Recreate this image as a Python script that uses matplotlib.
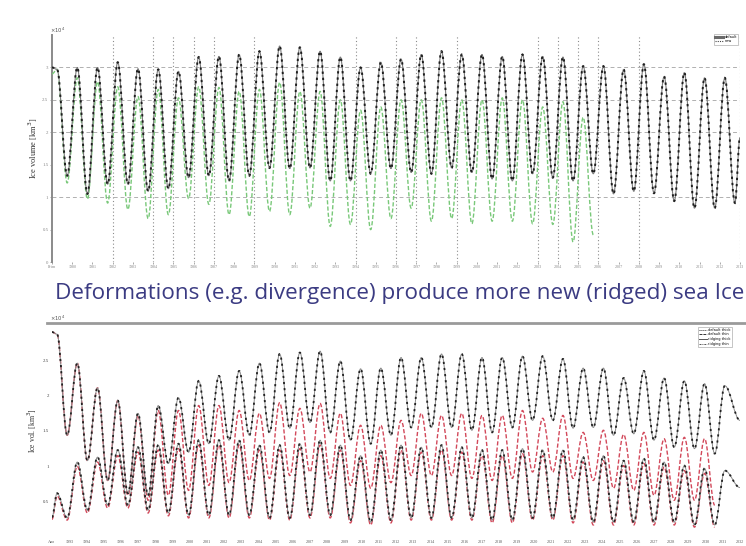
import matplotlib
matplotlib.use("Agg")
import matplotlib.pyplot as plt
from matplotlib.path import Path
from matplotlib.patches import PathPatch
from matplotlib.lines import Line2D

# ---------------- data ----------------
# Top panel: ice volume (x10^4 km^3), one seasonal maximum / minimum per year
top_black_start = 3.00
top_black_max = [2.97, 3.00, 3.00, 3.08, 2.98, 2.97, 2.94, 3.16, 3.17, 3.20,
                 3.25, 3.33, 3.31, 3.25, 3.16, 3.00, 3.08, 3.13, 3.20, 3.25,
                 3.20, 3.20, 3.17, 3.20, 3.17, 3.16, 3.02, 3.02, 2.97, 3.05,
                 2.86, 2.92, 2.84, 2.84]
top_black_min = [1.33, 1.05, 1.20, 1.20, 1.09, 1.13, 1.30, 1.33, 1.25, 1.33,
                 1.45, 1.44, 1.45, 1.25, 1.25, 1.36, 1.44, 1.38, 1.36, 1.45,
                 1.38, 1.28, 1.25, 1.36, 1.30, 1.25, 1.36, 1.05, 1.09, 1.06,
                 0.94, 0.83, 0.83, 0.91]
top_black_end = 1.92

top_green_start = 2.90
top_green_max = [2.97, 2.84, 2.78, 2.70, 2.55, 2.66, 2.53, 2.70, 2.69, 2.63,
                 2.66, 2.77, 2.63, 2.63, 2.50, 2.34, 2.39, 2.50, 2.50, 2.53,
                 2.50, 2.50, 2.53, 2.50, 2.39, 2.47, 2.23]
top_green_min = [1.22, 0.97, 0.91, 0.81, 0.67, 0.73, 0.98, 0.89, 0.73, 0.70,
                 0.78, 0.73, 0.83, 0.55, 0.58, 0.50, 0.67, 0.83, 0.63, 0.67,
                 0.59, 0.63, 0.63, 0.59, 0.58, 0.31, 0.42]

event_years = [3, 5, 6, 7, 8, 10, 15, 17, 18, 20, 24, 25, 26, 27, 29, 34]
top_grid_levels = [1.0, 2.0, 2.5, 3.0]
top_yticks = [0, 0.5, 1, 1.5, 2, 2.5, 3]
top_ytick_labels = ["0", "0.5", "1", "1.5", "2", "2.5", "3"]
top_xtick_labels = ["Prim"] + [str(1980 + i) for i in range(34)]

# Bottom panel: four runs
bot_upper_black_start = 2.90
bot_upper_black_max = [2.87, 2.46, 2.11, 1.93, 1.75, 1.86, 1.97, 2.21, 2.28, 2.35,
                       2.46, 2.59, 2.61, 2.63, 2.49, 2.38, 2.39, 2.54, 2.54, 2.59,
                       2.59, 2.54, 2.54, 2.56, 2.56, 2.52, 2.39, 2.39, 2.25, 2.35,
                       2.25, 2.21, 2.17, 2.14]
bot_upper_black_min = [1.44, 1.08, 0.80, 0.62, 0.59, 1.04, 1.20, 1.32, 1.37, 1.44,
                       1.48, 1.54, 1.62, 1.48, 1.37, 1.32, 1.44, 1.55, 1.55, 1.55,
                       1.51, 1.48, 1.55, 1.65, 1.65, 1.54, 1.55, 1.44, 1.46, 1.37,
                       1.27, 1.25, 1.18]
bot_upper_black_end = 1.65

bot_upper_red_start = 2.90
bot_upper_red_max = [2.87, 2.46, 2.11, 1.93, 1.72, 1.79, 1.79, 1.86, 1.86, 1.79,
                     1.75, 1.90, 1.82, 1.89, 1.75, 1.58, 1.58, 1.65, 1.75, 1.72,
                     1.75, 1.72, 1.72, 1.79, 1.68, 1.72, 1.48, 1.51, 1.45, 1.48,
                     1.39, 1.41, 1.39]
bot_upper_red_min = [1.44, 1.08, 0.80, 0.59, 0.52, 0.59, 0.66, 0.73, 0.77, 0.80,
                     0.83, 0.87, 0.92, 0.83, 0.73, 0.69, 0.77, 0.87, 0.87, 0.87,
                     0.83, 0.80, 0.83, 0.92, 0.92, 0.83, 0.80, 0.69, 0.66, 0.59,
                     0.52, 0.52, 0.45]

bot_lower_black_start = 0.28
bot_lower_black_max = [0.62, 1.06, 1.13, 1.23, 1.27, 1.30, 1.32, 1.37, 1.37, 1.37,
                       1.30, 1.30, 1.32, 1.37, 1.30, 1.15, 1.23, 1.30, 1.27, 1.30,
                       1.27, 1.23, 1.23, 1.25, 1.23, 1.23, 1.13, 1.15, 1.08, 1.11,
                       1.06, 1.01, 0.97, 0.94]
bot_lower_black_min = [0.27, 0.38, 0.45, 0.45, 0.38, 0.34, 0.31, 0.31, 0.31, 0.31,
                       0.27, 0.27, 0.31, 0.31, 0.24, 0.21, 0.24, 0.27, 0.27, 0.27,
                       0.27, 0.24, 0.24, 0.27, 0.27, 0.24, 0.21, 0.21, 0.21, 0.21,
                       0.21, 0.17, 0.17]
bot_lower_black_end = 0.70

bot_lower_red_start = 0.25
bot_lower_red_max = [0.58, 1.00, 1.06, 1.15, 1.20, 1.23, 1.25, 1.30, 1.30, 1.30,
                     1.23, 1.23, 1.25, 1.30, 1.23, 1.08, 1.15, 1.23, 1.20, 1.23,
                     1.20, 1.15, 1.15, 1.18, 1.15, 1.15, 1.06, 1.08, 1.01, 1.04,
                     0.99, 0.94, 0.90]
bot_lower_red_min = [0.24, 0.34, 0.41, 0.41, 0.34, 0.30, 0.27, 0.27, 0.27, 0.27,
                     0.24, 0.24, 0.27, 0.27, 0.20, 0.17, 0.20, 0.24, 0.24, 0.24,
                     0.24, 0.20, 0.20, 0.24, 0.24, 0.20, 0.17, 0.17, 0.17, 0.17,
                     0.17, 0.14, 0.14]

bot_yticks = [0.5, 1.0, 1.5, 2.0, 2.5]
bot_ytick_labels = ["0.5", "1", "1.5", "2", "2.5"]
bot_xtick_labels = ["Ano"] + [str(1993 + i) for i in range(40)]

title_text = "Deformations (e.g. divergence) produce more new (ridged) sea Ice"
top_legend_labels = ["default", "new"]
bot_legend_labels = ["default thick", "default thin",
                     "ridging thick", "ridging thin"]

N_YEARS = 34


def seasonal_path(start, maxima, minima, end=None, phase=0.25):
    """Smooth curve through the yearly extremes (horizontal tangents at extremes)."""
    ext = []
    for k in range(max(len(maxima), len(minima))):
        if k < len(maxima):
            ext.append((k + phase, maxima[k]))
        if k < len(minima):
            ext.append((k + phase + 0.5, minima[k]))
    if end is not None:
        ext.append((N_YEARS, end))
    verts = [(0.0, start)]
    codes = [Path.MOVETO]
    prev = verts[0]
    for p in ext:
        h = 0.36 * (p[0] - prev[0])
        verts += [(prev[0] + h, prev[1]), (p[0] - h, p[1]), p]
        codes += [Path.CURVE4] * 3
        prev = p
    return Path(verts, codes)


def draw_series(ax, path, color, lw, ls, z=3):
    ax.add_patch(PathPatch(path, fill=False, edgecolor=color, lw=lw,
                           linestyle=ls, transform=ax.transData, zorder=z))


SERIF = "Liberation Serif"
W, H = 746, 546
fig = plt.figure(figsize=(W / 100, H / 100), dpi=100)


def fx(px):
    return px / W


def fy(py):
    return 1 - py / H


# ---------------- top panel ----------------
ax1 = fig.add_axes([fx(52), fy(262), fx(740) - fx(52), fy(35) - fy(262)])
ax1.set_xlim(0, N_YEARS)
ax1.set_ylim(0, 3.5)
for s in ["top", "right", "bottom"]:
    ax1.spines[s].set_visible(False)
ax1.spines["left"].set_color("#8a8a8a")
ax1.spines["left"].set_linewidth(1.4)

for lev in top_grid_levels:
    ax1.axhline(lev, color="#b0b0b0", lw=0.7, linestyle=(0, (4, 3)), zorder=1)
for ev in event_years:
    ax1.axvline(ev, color="#8c8c8c", lw=0.8, linestyle=(0, (1, 2.2)), zorder=1)

gp = seasonal_path(top_green_start, top_green_max, top_green_min)
draw_series(ax1, gp, "#79c879", 1.0, (0, (3, 1.5)), z=3)
bp = seasonal_path(top_black_start, top_black_max, top_black_min, top_black_end)
draw_series(ax1, bp, "#7a7a7a", 0.8, "-", z=4)
draw_series(ax1, bp, "#1e1e1e", 1.4, (0, (1.2, 2.0)), z=5)

ax1.set_yticks(top_yticks)
ax1.set_yticklabels(top_ytick_labels, fontsize=3.5, family=SERIF, color="#444")
ax1.set_xticks(range(N_YEARS + 1))
ax1.set_xticklabels(top_xtick_labels, fontsize=3.0, family=SERIF, color="#555")
ax1.tick_params(axis="both", length=1.5, width=0.5, pad=1, colors="#888")
ax1.set_ylabel("Ice volume [km$^3$]", fontsize=6, family=SERIF, color="#333",
               labelpad=2)
fig.text(fx(50), fy(35), r"$\times10^4$", fontsize=3.8, color="#555",
         ha="left", va="bottom")

h_top = [Line2D([], [], color="#6a6a6a", lw=2.2),
         Line2D([], [], color="#444", lw=0.8, linestyle=(0, (1, 1)))]
leg1 = fig.legend(h_top, top_legend_labels, loc="upper left",
                  bbox_to_anchor=(fx(712), fy(32)), fontsize=2.5,
                  frameon=True, fancybox=False, borderpad=0.3, handlelength=2.5,
                  labelspacing=0.2, handletextpad=0.3)
leg1.get_frame().set_edgecolor("#999")
leg1.get_frame().set_linewidth(0.5)

# ---------------- title between panels ----------------
fig.text(fx(55), fy(294), title_text, fontsize=16.2, family="Open Sans",
         color="#3b3b82", ha="left", va="center")
fig.add_artist(Line2D([fx(47), fx(746)], [fy(323), fy(323)], color="#9a9a9a",
                      lw=2.0, transform=fig.transFigure))

# ---------------- bottom panel ----------------
ax2 = fig.add_axes([fx(52), fy(537), fx(740) - fx(52), fy(325) - fy(537)])
ax2.set_xlim(0, N_YEARS)
ax2.set_ylim(0, 3.0)
for s in ax2.spines.values():
    s.set_visible(False)

red = "#d2485a"
draw_series(ax2, seasonal_path(bot_lower_red_start, bot_lower_red_max,
                               bot_lower_red_min), red, 1.0, (0, (3, 1.5)), z=3)
draw_series(ax2, seasonal_path(bot_upper_red_start, bot_upper_red_max,
                               bot_upper_red_min), red, 1.0, (0, (3, 1.5)), z=3)
for st, mx, mn, en in [(bot_lower_black_start, bot_lower_black_max,
                        bot_lower_black_min, bot_lower_black_end),
                       (bot_upper_black_start, bot_upper_black_max,
                        bot_upper_black_min, bot_upper_black_end)]:
    pth = seasonal_path(st, mx, mn, en)
    draw_series(ax2, pth, "#8a8a8a", 0.7, "-", z=4)
    draw_series(ax2, pth, "#222222", 1.3, (0, (1.2, 2.2)), z=5)

ax2.set_yticks(bot_yticks)
ax2.set_yticklabels(bot_ytick_labels, fontsize=3.5, family=SERIF, color="#444")
nb = len(bot_xtick_labels)
ax2.set_xticks([i * N_YEARS / (nb - 1) for i in range(nb)])
ax2.set_xticklabels(bot_xtick_labels, fontsize=3.0, family=SERIF, color="#555")
ax2.tick_params(axis="both", length=0, pad=2)
ax2.set_ylabel("Ice vol. [km$^3$]", fontsize=5.5, family=SERIF, color="#333",
               labelpad=3)
fig.text(fx(50), fy(323), r"$\times10^4$", fontsize=3.8, color="#555",
         ha="left", va="bottom")

h_bot = [Line2D([], [], color="#333", lw=0.7, linestyle=(0, (1, 1))),
         Line2D([], [], color="#333", lw=0.7, linestyle=(0, (3, 1))),
         Line2D([], [], color="#555", lw=0.7),
         Line2D([], [], color="#555", lw=0.7, linestyle=(0, (2, 1, 1, 1)))]
leg2 = fig.legend(h_bot, bot_legend_labels, loc="upper left",
                  bbox_to_anchor=(fx(696), fy(325)), fontsize=2.5,
                  frameon=True, fancybox=False, borderpad=0.3, handlelength=2.5,
                  labelspacing=0.2, handletextpad=0.3)
leg2.get_frame().set_edgecolor("#999")
leg2.get_frame().set_linewidth(0.5)

fig.savefig("out.png", dpi=100)
